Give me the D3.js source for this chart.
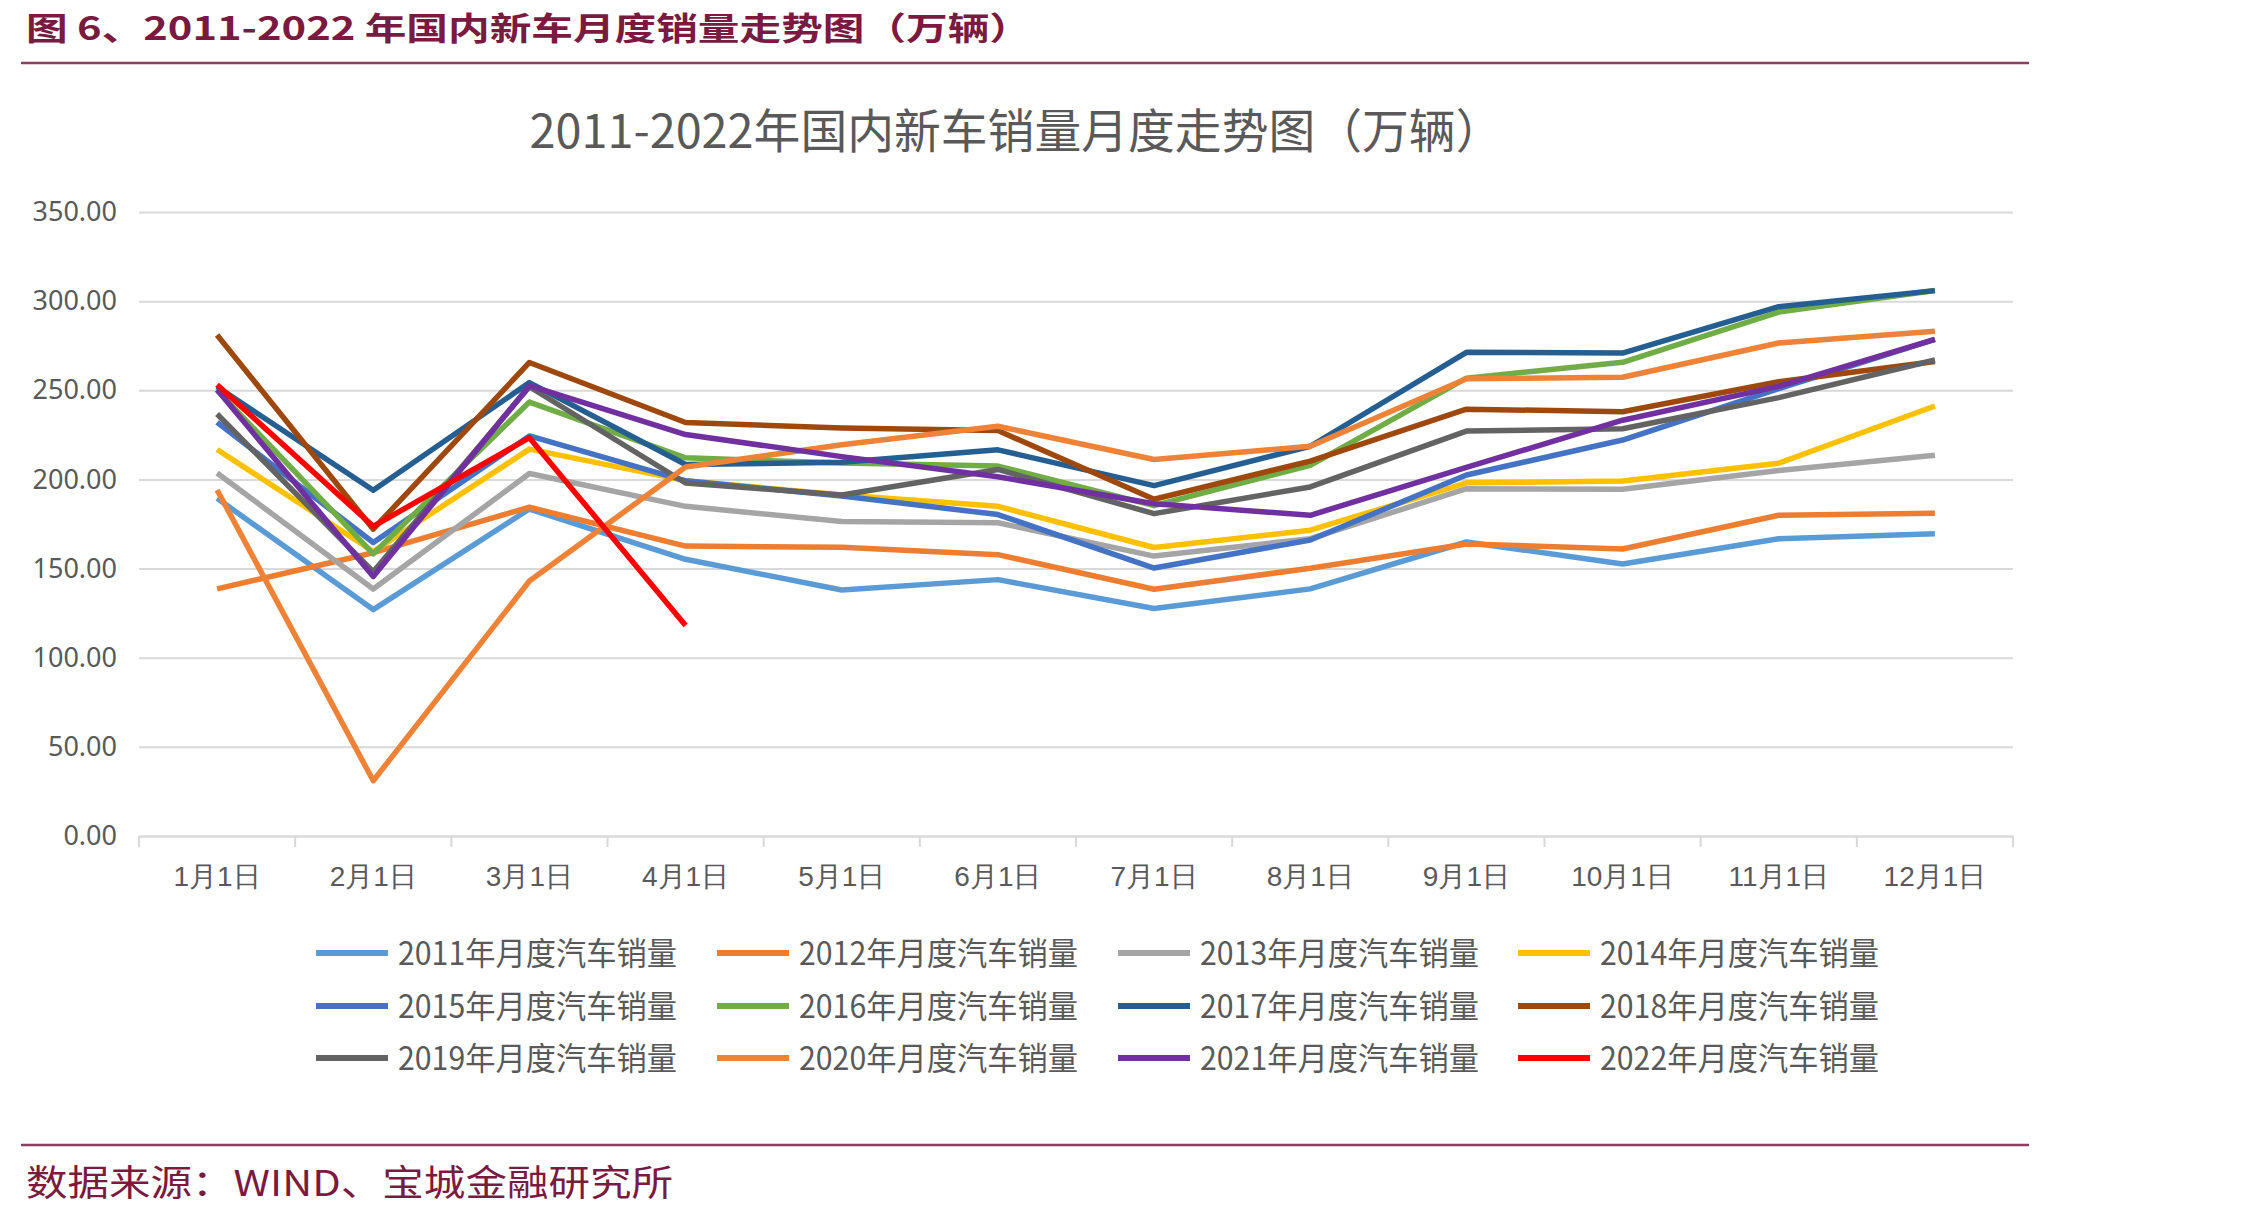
<!DOCTYPE html>
<html>
<head>
<meta charset="utf-8">
<script src="https://cdn.jsdelivr.net/npm/d3@7"></script>
<style>
  body { margin: 0; background: #fff; }
  svg { display: block; font-family: "Noto Sans CJK SC", "Noto Sans", sans-serif; }
</style>
</head>
<body>
<div id="chart"></div>
<script>
// months on the x axis
var months = ["1月1日", "2月1日", "3月1日", "4月1日", "5月1日", "6月1日",
  "7月1日", "8月1日", "9月1日", "10月1日", "11月1日", "12月1日"];
var yTicks = [0, 50, 100, 150, 200, 250, 300, 350];

// monthly sales, 万辆
var s2011 = [189.4, 127.0, 183.4, 155.2, 138.0, 143.8, 127.6, 138.6, 164.9, 152.6, 166.7, 169.5];
var s2012 = [138.6, 158.9, 184.4, 162.6, 161.9, 157.8, 138.4, 150.2, 163.8, 161.0, 179.9, 181.0];
var s2013 = [203.6, 138.5, 203.3, 184.9, 176.4, 175.7, 157.0, 166.8, 194.8, 194.5, 205.0, 213.5];
var s2014 = [216.8, 159.6, 217.0, 199.3, 191.3, 184.9, 161.8, 171.5, 198.1, 199.1, 209.1, 241.2];
var s2015 = [232.0, 164.6, 224.4, 199.2, 190.7, 180.3, 150.3, 166.0, 202.5, 222.1, 250.9, 278.6];
var s2016 = [250.1, 158.3, 243.4, 212.1, 209.2, 207.5, 185.3, 207.9, 256.8, 265.7, 293.9, 306.0];
var s2017 = [252.0, 193.9, 254.3, 208.4, 209.6, 216.6, 196.5, 218.6, 271.3, 270.9, 296.9, 305.9];
var s2018 = [281.0, 172.1, 265.6, 231.9, 228.8, 227.4, 188.9, 210.3, 239.4, 238.0, 254.8, 266.1];
var s2019 = [236.7, 148.2, 252.0, 198.0, 191.3, 205.6, 180.8, 195.8, 227.1, 228.4, 245.9, 267.0];
var s2020 = [194.1, 31.0, 143.0, 207.0, 219.4, 229.8, 211.2, 218.6, 256.5, 257.3, 276.5, 283.1];
var s2021 = [250.3, 145.5, 252.6, 225.2, 212.8, 201.5, 186.4, 179.9, 206.7, 233.2, 252.2, 278.6];
var s2022 = [253.1, 173.7, 223.4, 118.1];

var seriesNames = ["2011年月度汽车销量", "2012年月度汽车销量", "2013年月度汽车销量", "2014年月度汽车销量",
  "2015年月度汽车销量", "2016年月度汽车销量", "2017年月度汽车销量", "2018年月度汽车销量",
  "2019年月度汽车销量", "2020年月度汽车销量", "2021年月度汽车销量", "2022年月度汽车销量"];
var seriesValues = [s2011, s2012, s2013, s2014, s2015, s2016, s2017, s2018, s2019, s2020, s2021, s2022];
var colors = ["#5B9BD5", "#ED7D31", "#A5A5A5", "#FFC000", "#4472C4", "#70AD47",
  "#255E91", "#9E480E", "#636363", "#EE8236", "#7030A0", "#FF0000"];

var W = 2244, H = 1219;
var maroon = "#7A1A40";
var plot = { left: 139, right: 2013, top: 212, bottom: 836 };

var svg = d3.select("#chart").append("svg").attr("width", W).attr("height", H);

// report header
svg.append("text")
  .attr("x", 26).attr("y", 40)
  .attr("fill", maroon)
  .style("font-size", "32px").style("font-weight", "bold")
  .attr("textLength", 1005).attr("lengthAdjust", "spacingAndGlyphs")
  .text("图 6、2011-2022 年国内新车月度销量走势图（万辆）");
svg.append("line")
  .attr("x1", 21).attr("x2", 2029).attr("y1", 63).attr("y2", 63)
  .attr("stroke", "#8A3E60").attr("stroke-width", 2.5);

// chart title
svg.append("text")
  .attr("x", 1016).attr("y", 148)
  .attr("text-anchor", "middle")
  .attr("fill", "#595959")
  .style("font-size", "47px")
  .attr("textLength", 973).attr("lengthAdjust", "spacingAndGlyphs")
  .text("2011-2022年国内新车销量月度走势图（万辆）");

var x = d3.scaleBand().domain(months).range([plot.left, plot.right]).padding(0);
var y = d3.scaleLinear().domain([0, 350]).range([plot.bottom, plot.top]);

// y axis with gridlines
var yAxis = svg.append("g")
  .attr("transform", "translate(" + plot.left + ",0)")
  .call(d3.axisLeft(y).tickValues(yTicks).tickFormat(d3.format(".2f"))
    .tickSize(-(plot.right - plot.left)).tickPadding(22));
yAxis.select(".domain").remove();
yAxis.selectAll(".tick line").attr("stroke", "#D9D9D9").attr("stroke-width", 2);
yAxis.selectAll(".tick text")
  .attr("fill", "#595959")
  .style("font-size", "27px")
  .style("font-family", "'Noto Sans', sans-serif");

// x axis labels
var xAxis = svg.append("g")
  .attr("transform", "translate(0," + plot.bottom + ")")
  .call(d3.axisBottom(x).tickSize(0).tickPadding(30));
xAxis.select(".domain").attr("stroke", "#D9D9D9").attr("stroke-width", 2);
xAxis.selectAll(".tick text")
  .attr("fill", "#595959")
  .style("font-size", "28px");

// tick marks at category boundaries
var bounds = months.map(function (m) { return x(m); }).concat([plot.right]);
svg.selectAll("line.xtick")
  .data(bounds)
  .enter()
  .append("line")
  .attr("class", "xtick")
  .attr("x1", function (d) { return d; })
  .attr("x2", function (d) { return d; })
  .attr("y1", plot.bottom)
  .attr("y2", plot.bottom + 11)
  .attr("stroke", "#D9D9D9")
  .attr("stroke-width", 2);

// lines
var line = d3.line()
  .x(function (d, i) { return x(months[i]) + x.bandwidth() / 2; })
  .y(function (d) { return y(d); });

svg.selectAll("path.series")
  .data(seriesValues)
  .enter()
  .append("path")
  .attr("class", "series")
  .attr("d", line)
  .attr("fill", "none")
  .attr("stroke", function (d, i) { return colors[i]; })
  .attr("stroke-width", 5.5)
  .attr("stroke-linejoin", "round");

// legend
var legX = [316, 717, 1118, 1518];
var legY = [953, 1006, 1058];
var leg = svg.selectAll("g.legend")
  .data(seriesNames)
  .enter()
  .append("g")
  .attr("class", "legend")
  .attr("transform", function (d, i) {
    return "translate(" + legX[i % 4] + "," + legY[Math.floor(i / 4)] + ")";
  });
leg.append("line")
  .attr("x1", 0).attr("x2", 72)
  .attr("stroke", function (d, i) { return colors[i]; })
  .attr("stroke-width", 6);
leg.append("text")
  .attr("x", 82).attr("y", 0)
  .attr("dy", "0.36em")
  .attr("fill", "#595959")
  .style("font-size", "32px")
  .attr("textLength", 279).attr("lengthAdjust", "spacingAndGlyphs")
  .text(function (d) { return d; });

// footer
svg.append("line")
  .attr("x1", 21).attr("x2", 2029).attr("y1", 1145).attr("y2", 1145)
  .attr("stroke", "#8A3E60").attr("stroke-width", 2.5);
svg.append("text")
  .attr("x", 26).attr("y", 1196)
  .attr("fill", maroon)
  .style("font-size", "36px")
  .attr("textLength", 647).attr("lengthAdjust", "spacingAndGlyphs")
  .text("数据来源：WIND、宝城金融研究所");
</script>
</body>
</html>
